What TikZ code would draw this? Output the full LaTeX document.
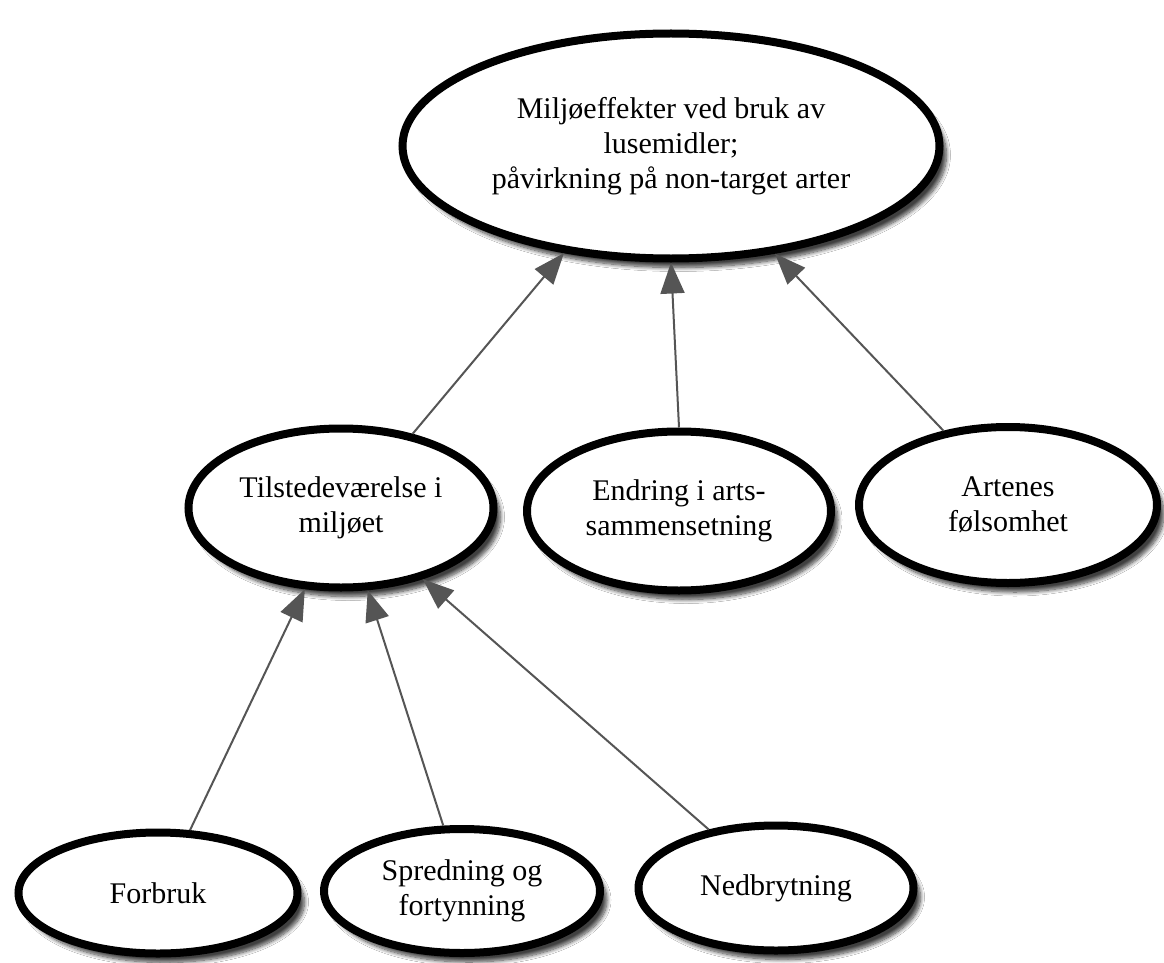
\documentclass[tikz,border=0pt]{standalone}
\usepackage{fontspec}
\setmainfont{Liberation Serif}
\usetikzlibrary{shapes.geometric, arrows.meta, shadows.blur}
\definecolor{linkgray}{HTML}{555555}
\begin{document}
\begin{tikzpicture}[x=1pt,y=-1pt,
  bubble/.style={ellipse, draw=black, line width=8pt, fill=white, align=center,
    font=\fontsize{30}{35}\selectfont, inner sep=0pt,
    blur shadow={shadow xshift=7pt, shadow yshift=-9pt, shadow blur radius=4pt,
      shadow blur steps=10, shadow opacity=75}},
  link/.style={draw=linkgray, line width=2pt, -{Triangle[length=31pt,width=24pt]}}]
\useasboundingbox (0,0) rectangle (1164,963);
\fill[white] (0,0) rectangle (1164,963);

\node[bubble, minimum width=537pt, minimum height=225pt] (top) at (671,146)
  {Miljøeffekter ved bruk av\\ lusemidler;\\ påvirkning på non-target arter};
\node[bubble, minimum width=305pt, minimum height=159pt] (tilst) at (341,508)
  {Tilstedeværelse i\\ miljøet};
\node[bubble, minimum width=304pt, minimum height=159pt] (endr) at (679,511)
  {Endring i arts-\\ sammensetning};
\node[bubble, minimum width=298pt, minimum height=156pt] (art) at (1008,505)
  {Artenes\\ følsomhet};
\node[bubble, minimum width=279pt, minimum height=121pt] (forb) at (158,893)
  {Forbruk};
\node[bubble, minimum width=276pt, minimum height=124pt] (spr) at (462,891)
  {Spredning og\\ fortynning};
\node[bubble, minimum width=275pt, minimum height=125pt] (ned) at (776,888)
  {Nedbrytning};

\draw[link] (tilst.46) -- (top.225.8);
\draw[link] (endr.90.7) -- (top.270.5);
\draw[link] (art.131.1) -- (top.314.5);
\draw[link] (forb.63.8) -- (tilst.246.4);
\draw[link] (spr.106.4) -- (tilst.288.6);
\draw[link] (ned.139.3) -- (tilst.319.2);
\end{tikzpicture}
\end{document}
